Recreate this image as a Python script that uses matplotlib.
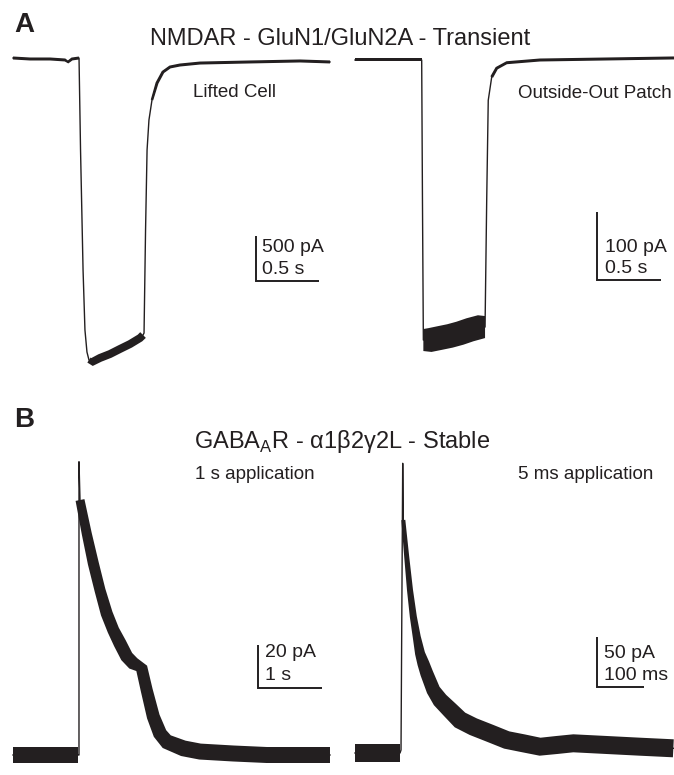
"""
Patch-clamp traces: NMDAR (GluN1/GluN2A) and GABA-A receptor currents.
Panel A: lifted cell vs outside-out patch; Panel B: 1 s vs 5 ms application.
"""

import numpy as np
import matplotlib
matplotlib.use("Agg")
import matplotlib.pyplot as plt

plt.rcParams["font.family"] = ["Liberation Sans", "DejaVu Sans"]
plt.rcParams["mathtext.fontset"] = "custom"
plt.rcParams["mathtext.rm"] = "Liberation Sans"
plt.rcParams["mathtext.bf"] = "Liberation Sans:bold"

INK = "#231f20"
W, H = 674, 775

# --- A, lifted cell (time s, current pA, noise band width px; 0 = clean trace)
t_a1 = [0, 0.135, 0.294, 0.413, 0.437, 0.468, 0.524, 0.536, 0.556, 0.571, 0.587, 0.603,
        0.627, 0.690, 0.770, 0.849, 0.929, 1.008, 1.032, 1.040, 1.052, 1.064, 1.079,
        1.103, 1.143, 1.190, 1.246, 1.325, 1.484, 1.881, 2.278, 2.516]
i_a1 = [0, -11, -11, -22, -44, -11, 0, -1022, -2356, -3022, -3267, -3356,
        -3378, -3333, -3289, -3233, -3178, -3111, -3078, -3056, -1911, -1022, -689,
        -467, -278, -156, -100, -78, -56, -44, -33, -44]
w_a1 = [3, 3, 3, 3, 3, 3, 3, 0, 0, 0, 0, 6,
        8, 8, 8, 8, 8, 8, 8, 0, 0, 0, 0,
        2.5, 3, 3, 3, 3, 3, 3, 3, 3]

# --- A, outside-out patch
t_a2 = [0, 0.521, 0.527, 0.534, 0.586, 0.664, 0.742, 0.820, 0.898, 0.977, 1.016,
        1.029, 1.041, 1.068, 1.107, 1.185, 1.445, 2.492]
i_a2 = [0, 0, -204, -410, -410, -407, -404, -400, -395, -391, -391,
        -204, -59, -25, -12, -4, 0, 3]
w_a2 = [3, 3, 0, 22, 24, 24, 24, 24, 24, 24, 22,
        0, 0, 3, 3, 3, 3, 3]

# --- B, 1 s application
t_b1 = [0, 1.020, 1.031, 1.031, 1.047, 1.152, 1.255, 1.359, 1.464, 1.567, 1.672, 1.777,
        1.880, 2.011, 2.089, 2.192, 2.297, 2.402, 2.661, 2.922, 3.442, 3.964, 4.953]
i_b1 = [0, 0, 0, 136.4, 118.6, 103.0, 89.1, 76.7, 65.8, 58.1, 51.9, 45.8,
        42.6, 40.3, 30.2, 17.9, 10.0, 6.2, 3.1, 1.6, 0.7, 0, 0]
w_b1 = [16, 16, 0, 0, 9, 10, 11, 11, 12, 12, 13, 13,
        13, 12, 12, 13, 14, 15, 16, 16, 16, 16, 16]

# --- B, 5 ms application (time ms)
t_b2 = [0, 95.8, 97.9, 101.5, 102.8, 110.0, 117.0, 124.1, 131.3, 138.3, 145.3, 152.6,
        166.6, 180.9, 202.2, 223.4, 251.7, 287.3, 322.8, 358.1, 393.7, 429.2, 464.5,
        535.6, 606.5, 677.3]
i_b2 = [0, 0, 3, 289.7, 233, 196.3, 163, 136.3, 116.3, 99.7, 89.7, 79.7,
        63, 53, 43, 33, 26.3, 19.7, 13, 9.7, 6.3, 8, 9.7,
        8, 6.3, 4.7]
w_b2 = [18, 18, 0, 0, 4, 5, 6, 7, 8, 10, 12, 13,
        14, 16, 17, 18, 18, 18, 18, 18, 18, 18, 18,
        18, 18, 18]

scale_t = [0.5, 0.5, 1, 100]
scale_i = [500, 100, 20, 50]
scale_t_lbl = ["0.5 s", "0.5 s", "1 s", "100 ms"]
scale_i_lbl = ["500 pA", "100 pA", "20 pA", "50 pA"]

traces = [(t_a1, i_a1, w_a1), (t_a2, i_a2, w_a2), (t_b1, i_b1, w_b1), (t_b2, i_b2, w_b2)]

# layout: pixel of (t=0, I=0), px per time unit, px per pA, scale-bar corner px
frames = [
    dict(ox=13, oy=58, sx=126, sy=0.09, bar=(256, 281)),
    dict(ox=355, oy=60, sx=128, sy=0.683, bar=(596.7, 280)),
    dict(ox=13, oy=755, sx=64, sy=2.15, bar=(257.7, 688)),
    dict(ox=355, oy=753, sx=0.47, sy=1.0, bar=(597.3, 686.7)),
]
lbl_pos = [(261.7, 252.3, 274), (605, 251.7, 273.3), (265, 657, 680), (604, 658.3, 680)]

fig = plt.figure(figsize=(W / 100, H / 100), dpi=100)


def px(x, y):
    return x / W, 1 - y / H


def noise_band(ax, t, cur, wid):
    """Fill a band of given pixel width around each noisy run of the trace."""
    idx = np.flatnonzero(wid > 0)
    runs = np.split(idx, np.flatnonzero(np.diff(idx) > 1) + 1)
    for r in runs:
        if len(r) < 2:
            continue
        P = ax.transData.transform(np.column_stack([t[r], cur[r]]))
        d = np.gradient(P, axis=0)
        d /= np.linalg.norm(d, axis=1, keepdims=True)
        n = np.column_stack([-d[:, 1], d[:, 0]]) * (wid[r][:, None] / 2)
        poly = np.vstack([P + n, (P - n)[::-1]])
        poly = ax.transData.inverted().transform(poly)
        ax.fill(poly[:, 0], poly[:, 1], color=INK, lw=0)


for k, ((t, cur, wid), fr) in enumerate(zip(traces, frames)):
    ax = fig.add_axes([0, 0, 1, 1])
    ax.axis("off")
    ax.patch.set_alpha(0)
    ox, oy, sx, sy = fr["ox"], fr["oy"], fr["sx"], fr["sy"]
    ax.set_xlim(-ox / sx, (W - ox) / sx)
    ax.set_ylim((oy - H) / sy, oy / sy)

    t = np.asarray(t, float)
    cur = np.asarray(cur, float)
    wid = np.asarray(wid, float)

    ax.plot(t, cur, color=INK, lw=1.0, solid_joinstyle="round")
    noise_band(ax, t, cur, wid)

    # scale bar
    bx, by = fr["bar"]
    tc, ic = (bx - ox) / sx, (oy - by) / sy
    ax.plot([tc, tc, tc + scale_t[k]], [ic + scale_i[k], ic, ic], color=INK, lw=1.4,
            solid_joinstyle="miter", solid_capstyle="butt")
    lx, ly1, ly2 = lbl_pos[k]
    fig.text(*px(lx, ly1), scale_i_lbl[k], fontsize=14, color=INK, va="baseline")
    fig.text(*px(lx, ly2), scale_t_lbl[k], fontsize=14, color=INK, va="baseline")

fig.text(*px(14, 31.7), "A", fontsize=20, fontweight="bold", color=INK, va="baseline")
fig.text(*px(14, 426.7), "B", fontsize=20, fontweight="bold", color=INK, va="baseline")
fig.text(*px(340.5, 45), "NMDAR - GluN1/GluN2A - Transient", fontsize=17, color=INK,
         ha="center", va="baseline")
fig.text(*px(342.5, 448), "GABA$_{\\mathrm{A}}$R - α1β2γ2L - Stable", fontsize=17,
         color=INK, ha="center", va="baseline")
fig.text(*px(193, 97), "Lifted Cell", fontsize=13.5, color=INK, va="baseline")
fig.text(*px(518, 98), "Outside-Out Patch", fontsize=13.5, color=INK, va="baseline")
fig.text(*px(195, 479), "1 s application", fontsize=13.5, color=INK, va="baseline")
fig.text(*px(518, 479), "5 ms application", fontsize=13.5, color=INK, va="baseline")

fig.savefig("out.png", dpi=100)
plt.close("all")
